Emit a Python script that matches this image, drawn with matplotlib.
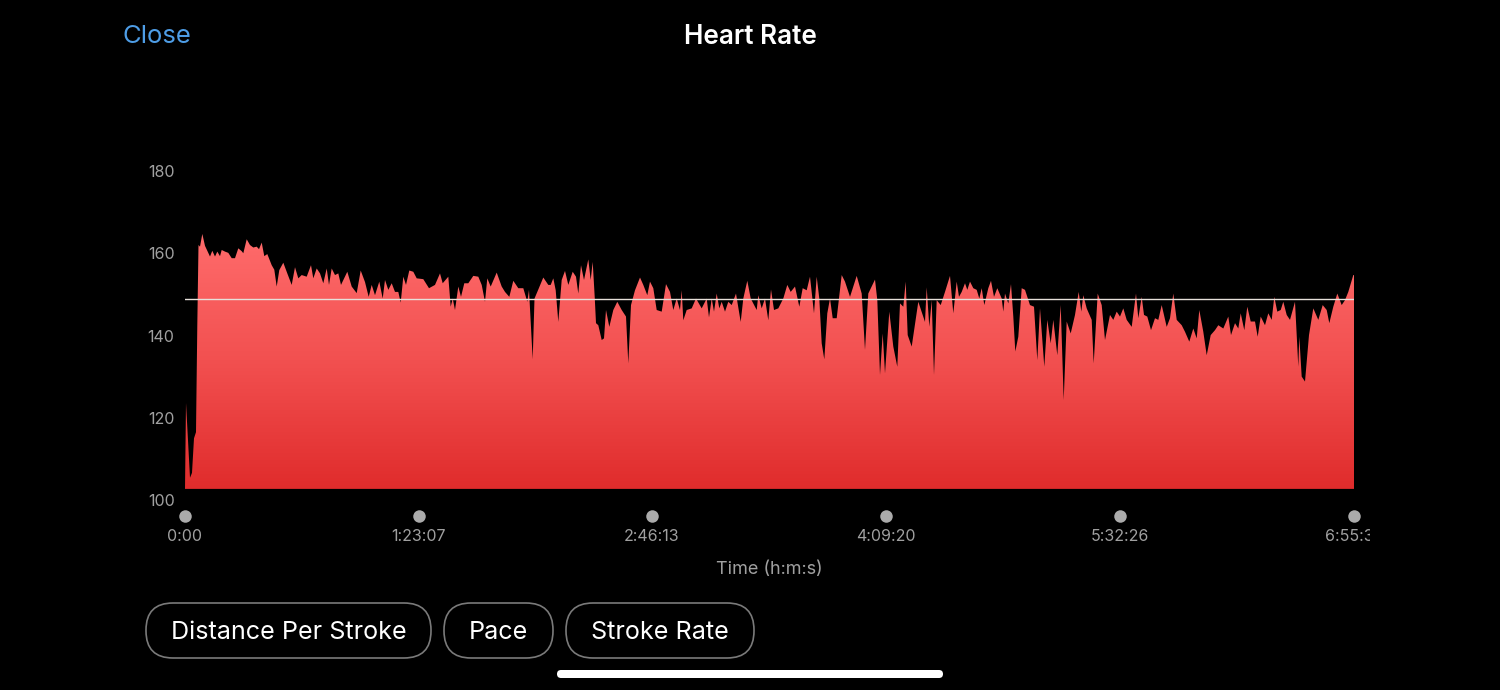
# Heart rate trace from a long swim, dark phone screen style

import numpy as np
import matplotlib
matplotlib.use("Agg")
import matplotlib.pyplot as plt
from matplotlib.colors import LinearSegmentedColormap
from matplotlib.patches import FancyBboxPatch
from matplotlib.transforms import Bbox

plt.rcParams['font.family'] = ['Inter', 'DejaVu Sans']

# sample number along the recording
samples = [
    0, 1, 5, 7, 9, 11, 12.3, 13.5, 15, 17.3, 20, 25, 27.3, 30, 32.3, 35, 36.7, 40, 43.3, 46.7, 50, 53.3, 56.7, 58.3,
    61.7, 65, 68.3, 71.7, 74, 76.7, 79.3, 82.3, 86.7, 89.3, 91.7, 94.3, 98.3, 102.3, 106.7, 110, 113.3,
    116.7, 121.7, 126, 128.3, 131.7, 135, 138.3, 141.7, 144, 146.7, 150, 153.3, 156, 162.3, 166.7, 171.7,
    175.7, 180, 183.7, 186.7, 190, 194.3, 197.7, 200, 203.3, 206.7, 210, 213.3, 215.7, 218.3, 221, 224.3,
    228.3, 231.7, 238.3, 244, 250, 255, 257.7, 263.3, 265.7, 267.7, 270, 273.3, 276, 279.3, 283.3, 288.3,
    293.3, 296.7, 300, 302.3, 305.7, 311.7, 316.7, 320, 324.3, 328.3, 333.3, 338.3, 342.3, 344, 347.7,
    349.5, 352.3, 358.3, 363.3,
    365.7, 368.3, 370.7, 373.3, 376.7, 380, 383.3, 387.7, 391, 393.3, 396, 399, 403.3, 405.7, 407.7, 409.7,
    411, 413.3, 416.7, 419, 421, 424.3, 428.3, 432.3, 436.7, 441, 443.3, 446, 450, 455, 458.3, 462.3, 465,
    468.3, 471.7, 476.7, 481, 485, 488.3, 491.7, 495, 496.7, 498.3, 501.7, 506.7, 511, 516.7, 521.7, 524,
    526.7, 529, 531.7, 534.3, 536.7, 540, 543.3, 546.7, 551, 555.7, 558.3, 562.3, 565.7, 571.7, 573.3,
    576.7, 580, 583.3, 586, 589, 593.3, 598.3, 602.3, 605.7, 610, 614.3, 617.7, 621.7, 625, 629, 631.7,
    634.3, 636.7, 639.3, 642.3, 645, 647.7, 651.7, 656.7, 660, 665, 671.7, 676.7, 680, 683.3, 690, 692.3,
    695, 697.7, 700, 704.3, 708.3, 712.3, 715, 718.3, 720.7, 722.7, 726.7, 733.3, 740, 741.7, 744.3, 746.7,
    749, 751.7, 755.7, 760,
    765, 768.3, 771.7, 774, 776.7, 780, 782.3, 785, 788.3, 791.7, 794.3, 796.7, 799.3, 803.3, 806, 809,
    812.3, 816.7, 818.3, 820, 823.3, 826, 828.3, 830.3, 833.3, 836.7, 840, 845, 849, 852.3, 855, 859.3,
    862.3, 865.7, 868.3, 872.3, 875.7, 878.7, 881.7, 885.7, 890, 893.7, 896.3, 898.3, 901.7, 906.7, 908.7,
    912.7, 916.7, 920, 925, 928.3, 931.7, 935, 938.3, 941.7, 946.7, 951, 953.3, 956.7, 959, 962.3, 966,
    970, 973.3, 976.7, 981.7, 985, 988.3, 991.7, 996.7, 1000, 1004.3, 1008.3, 1011.7, 1014.3, 1018.3,
    1021.7, 1025.7, 1030, 1033.3, 1038.3, 1043.3, 1046, 1050, 1053.3, 1055.7, 1059.3, 1062.3, 1065.7, 1070,
    1072.7, 1075.7, 1080, 1083.3, 1086.7, 1089.3, 1092.3, 1095.7, 1098.3, 1101.7, 1105, 1110, 1113.3,
    1114.3, 1116.7, 1120, 1124, 1128.3, 1133.3, 1137.7, 1141.7, 1144.3, 1148.3, 1152.3, 1156.7, 1160,
    1163.3, 1168.3, 1169,
]

# bpm at each sample
heart_rate = [
    102.7, 123.6, 105.4, 106.6, 115, 116.5, 142.5, 162, 161.6, 164.7, 161.8, 159.2, 160.6, 159.2, 160.4, 159.3, 160.8, 160.4,
    160.1, 158.8, 158.8, 161.2, 160.5, 160, 163.4, 162, 161.4, 161.6, 161, 162.6, 159.3, 159.8, 157.1, 156,
    151.9, 155.9, 157.7, 155.1, 152.3, 156.6, 153.9, 154.7, 154.3, 157.1, 153.9, 156.3, 155.1, 152.7, 156.3,
    152.3, 156.3, 154.7, 155.1, 152.3, 155.5, 151.9, 150.3, 155.8, 153, 149.4, 152.3, 149.8, 153.1, 149,
    153.5, 151.1, 152.7, 150.6, 150.6, 148, 154.3, 152.3, 155.8, 155.5, 153.9, 153.7, 151.5, 152.3, 155.1,
    152.7, 154.3, 147, 149, 146.2, 151.9, 149.4, 152.7, 152.7, 154.5, 154.3, 152.3, 148.2, 153.9, 151.9,
    155.3, 151.9, 150.6, 149.4, 153.3, 151.5, 151.5, 148.2, 151.1, 134.2, 149, 150.6, 154.1, 152.3,
    152.3, 153.9, 151, 143.3, 153.5, 155.7, 152.3, 155.5, 154.3, 150.2, 157.1, 153.5, 158.5, 153.5, 157.9,
    149.4, 143, 142.5, 138.9, 139.3, 146.2, 142.1, 146.2, 148.2, 146.2, 144.6, 133.2, 147.4, 151, 154.1,
    152.3, 149.8, 153.1, 151.5, 146.2, 145.8, 152.5, 150.6, 146.2, 149, 146.2, 151, 143.7, 146.2, 146.6,
    149, 146.6, 149, 144.4, 149, 145.8, 150.2, 146.6, 148.2, 145.8, 148.2, 147.4, 150.2, 143.3, 149, 153.3,
    149, 146.2, 149.8, 146.6, 149, 143.7, 151.2, 146.2, 146.6, 149, 152.3, 150.6, 151.9, 147, 151.5, 151,
    154.3, 145.4, 154.3, 149, 138.1, 134.2, 145.4, 149, 144.2, 144.2, 154.7, 153.1, 149.4, 154.5, 150.2,
    136.5, 150.2, 153.6, 148.6, 130.4, 140.5, 130.8, 145.8, 137.3, 132.4, 147.8, 147, 153.1, 140.1, 137.3,
    148.2, 143.3, 151.7, 142.1, 148.6, 130.4, 148.6, 147.4, 150.6,
    154.5, 145.4, 153.1, 149.4, 150.6, 152.7, 151.1, 153.1, 151.5, 151.1, 149, 151.5, 147.4, 151.5, 153.3,
    149.4, 151.5, 149, 145.8, 150.2, 147.8, 152.5, 144.6, 136.1, 139.7, 151.5, 151.1, 147.4, 147, 134,
    146.6, 132.4, 143.8, 138.1, 143.8, 135.2, 147.4, 124.3, 143.4, 140.5, 145, 150.6, 145.8, 149.8, 146.6,
    143.8, 133.2, 150.2, 147.4, 138.9, 145, 143.8, 145.8, 144.6, 146.6, 143.8, 142.1, 150.2, 144.2, 149.4,
    145, 144.6, 141.3, 144.2, 143.8, 147.4, 142.1, 144.2, 150.2, 143.8, 142.5, 140.9, 138.5, 141.7, 139.3,
    146.2, 140.9, 135.2, 140.1, 141.3, 142.5, 141.7, 144.6, 140.1, 143, 141.7, 145.4, 141.3, 147, 143.4,
    143.4, 139.7, 144.6, 142.5, 145.4, 143.8, 149.4, 145.8, 146.2, 148.2, 145, 143.8, 148.2, 132.4, 139.7,
    130, 128.8, 140.1, 146.6, 143.8, 147.4, 146.2, 143, 147, 150.2, 147.4, 148.6, 150.6, 154.7, 154.7,
]

average_hr = 148.9
chart_floor = 102.7

y_ticks = [100, 120, 140, 160, 180]
x_ticks = [0, 234, 467, 701, 935, 1169]
x_labels = ['0:00', '1:23:07', '2:46:13', '4:09:20', '5:32:26', '6:55:33']

button_names = ['Distance Per Stroke', 'Pace', 'Stroke Rate']

fig = plt.figure(figsize=(15, 6.9), dpi=100, facecolor='black')

ax = fig.add_axes([185 / 1500, 190 / 690, 1169 / 1500, 329 / 690])
ax.set_facecolor('black')
ax.set_xlim(0, 1169)
ax.set_ylim(100, 180)
for side in ax.spines.values():
    side.set_visible(False)

# red area, gradient clipped to the trace
hr_cmap = LinearSegmentedColormap.from_list('hr', ['#E02C2C', '#F25050', '#FF6C6C'])
poly = ax.fill_between(samples, heart_rate, chart_floor, color='none', linewidth=0)
grad = np.linspace(0, 1, 256).reshape(-1, 1)
im = ax.imshow(grad, origin='lower', aspect='auto', cmap=hr_cmap,
               extent=[0, 1169, chart_floor, 165])
im.set_clip_path(poly.get_paths()[0], transform=ax.transData)
ax.set_xlim(0, 1169)
ax.set_ylim(100, 180)

ax.axhline(average_hr, color='#E6E0DA', linewidth=1)

ax.set_yticks(y_ticks)
ax.set_xticks(x_ticks)
ax.set_xticklabels(x_labels)
ax.tick_params(axis='y', length=0, pad=7.5, labelsize=11.5, labelcolor='#A0A0A0')
ax.tick_params(axis='x', length=0, pad=21, labelsize=11.5, labelcolor='#A0A0A0')

# last time label runs off the chart area in the original
for lab in ax.get_xticklabels():
    lab.set_clip_box(Bbox([[0, 0], [1370, 690]]))
    lab.set_clip_on(True)

# slider dots under the chart
ax.plot(x_ticks, [96.1] * len(x_ticks), 'o', color='#ABABAB', markersize=9, markeredgewidth=0, clip_on=False)

# screen furniture in pixel coordinates
ui = fig.add_axes([0, 0, 1, 1])
ui.set_xlim(0, 1500)
ui.set_ylim(690, 0)
ui.axis('off')
ui.patch.set_alpha(0)

ui.text(156.5, 36.5, 'Close', color='#4E9DE6', fontsize=18.5, ha='center', va='center')
ui.text(750, 36.5, 'Heart Rate', color='white', fontsize=18.8, fontweight='semibold', ha='center', va='center')
ui.text(769, 569.5, 'Time (h:m:s)', color='#A0A0A0', fontsize=13, ha='center', va='center')

button_left = [146, 444, 566]
button_right = [431, 553, 754]
for name, x0, x1 in zip(button_names, button_left, button_right):
    ui.add_patch(FancyBboxPatch((x0, 603), x1 - x0, 55, boxstyle='round,pad=0,rounding_size=27',
                                facecolor='black', edgecolor='#7A7A7A', linewidth=1.2))
    ui.text((x0 + x1) / 2, 632.5, name, color='white', fontsize=18.1, ha='center', va='center')

# home indicator
ui.add_patch(FancyBboxPatch((557, 670), 386, 8, boxstyle='round,pad=0,rounding_size=4',
                            facecolor='white', edgecolor='none'))

fig.savefig('out.png', dpi=100, facecolor='black')
